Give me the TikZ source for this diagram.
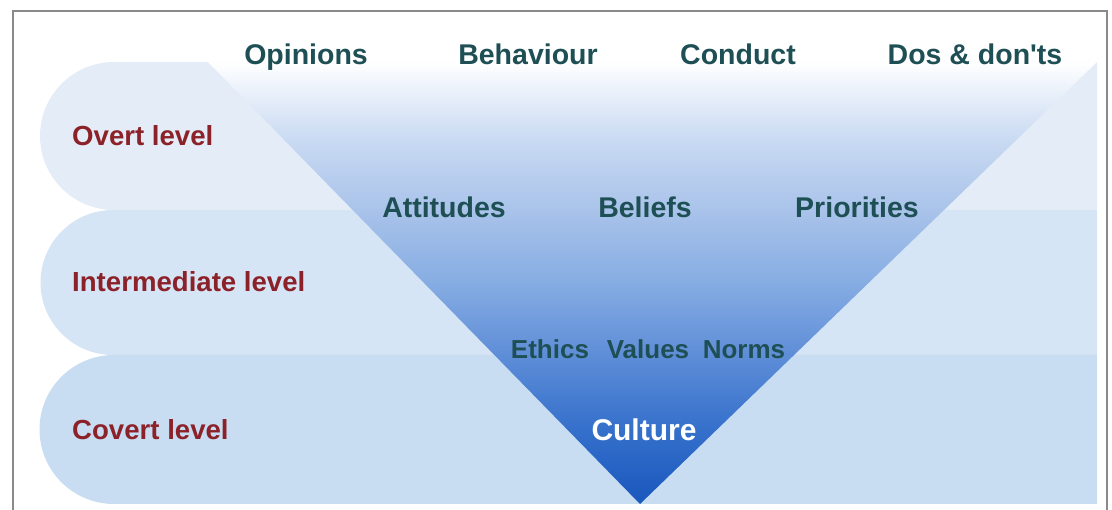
\documentclass[tikz,border=0pt]{standalone}
\usepackage{xcolor}
\usepackage{fontspec}
\setmainfont{Liberation Sans}
\usepackage{tikz}
\usetikzlibrary{positioning}
\definecolor{bandA}{HTML}{E4ECF7}
\definecolor{bandB}{HTML}{D6E5F5}
\definecolor{bandC}{HTML}{C8DDF2}
\definecolor{wordteal}{HTML}{1E4F55}
\definecolor{levelred}{HTML}{8C2229}
\definecolor{frame}{HTML}{8A8A8A}
\definecolor{fun0}{HTML}{1A57BD}
\definecolor{fun1}{HTML}{3570CB}
\definecolor{fun2}{HTML}{5F8ED8}
\definecolor{fun3}{HTML}{88AEE3}
\definecolor{fun4}{HTML}{A9C3EA}
\definecolor{fun5}{HTML}{C8D9F2}
\definecolor{fun6}{HTML}{E6EEF9}
\pgfdeclareverticalshading{funnel}{100bp}{color(0bp)=(fun0); color(25bp)=(fun0);
  color(33.5bp)=(fun1); color(42bp)=(fun2); color(50.5bp)=(fun3);
  color(58.25bp)=(fun4); color(66bp)=(fun5); color(71bp)=(fun6); color(75bp)=(white); color(100bp)=(white)}

\begin{document}
\begin{tikzpicture}
  [
    x=1pt, y=-1pt,
    Level/.style={anchor=base west, inner sep=0pt, text=levelred, font=\fontsize{27.6}{30}\selectfont\bfseries},
    Word/.style={anchor=base, inner sep=0pt, text=wordteal, font=\fontsize{28.5}{32}\selectfont\bfseries},
    Deep/.style={anchor=base, inner sep=0pt, text=wordteal, font=\fontsize{26}{30}\selectfont\bfseries},
    Core/.style={anchor=base, inner sep=0pt, text=white, font=\fontsize{30}{34}\selectfont\bfseries}
  ]
  \useasboundingbox (0,0) rectangle (1112,510);
  % Frame
  \draw[frame, line width=1.3pt] (13,510) -- (13,11) -- (1107,11) -- (1107,510);
  % Bands
  \fill[bandA] (1097,62) -- (114,62) arc[start angle=-90, end angle=-270, radius=74] -- (1097,210) -- cycle;
  \fill[bandB] (1097,210) -- (113,210) arc[start angle=-90, end angle=-270, radius=72.5] -- (1097,355) -- cycle;
  \fill[bandC] (1097,355) -- (114,355) arc[start angle=-90, end angle=-270, radius=74.5] -- (1097,504) -- cycle;
  % Funnel
  \shade[shading=funnel] (208,62) -- (1097,62) -- (640,504) -- cycle;
  % Nodes
  \node[Level] (overt) at(72, 146) {Overt level};
  \node[Level] (inter) at(72, 292) {Intermediate level};
  \node[Level] (covert) at(72, 440) {Covert level};
  \node[Word] (opinions) at(306, 65) {Opinions};
  \node[Word] (behaviour) at(528, 65) {Behaviour};
  \node[Word] (conduct) at(738, 65) {Conduct};
  \node[Word] (dos) at(975, 65) {Dos \& don\textquotesingle ts};
  \node[Word] (attitudes) at(444, 218) {Attitudes};
  \node[Word] (beliefs) at(645, 218) {Beliefs};
  \node[Word] (priorities) at(857, 218) {Priorities};
  \node[Deep] (ethics) at(550, 359) {Ethics};
  \node[Deep] (values) at(648, 359) {Values};
  \node[Deep] (norms) at(744, 359) {Norms};
  \node[Core] (culture) at(644, 441) {Culture};
\end{tikzpicture}
\end{document}
